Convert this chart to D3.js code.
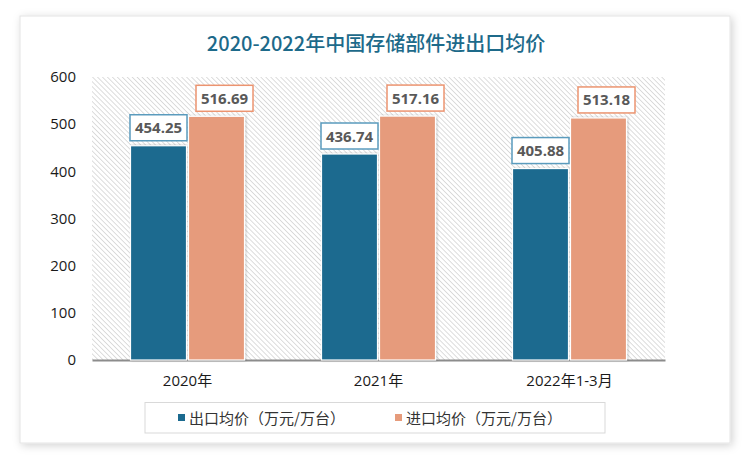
<!DOCTYPE html>
<html><head><meta charset="utf-8">
<script src="https://cdn.jsdelivr.net/npm/d3@7"></script>
<style>body{margin:0;background:#fff;}svg{display:block;}</style>
</head><body>
<svg id="chart" width="750" height="461"></svg>
<script>
const title = "2020-2022年中国存储部件进出口均价";
const categories = ["2020年", "2021年", "2022年1-3月"];
const seriesNames = ["出口均价（万元/万台）", "进口均价（万元/万台）"];
const exportValues = [454.25, 436.74, 405.88];
const importValues = [516.69, 517.16, 513.18];
const yTicks = [0, 100, 200, 300, 400, 500, 600];
const colors = ["#1b6a8f", "#e69b7b"];
const labelBorders = ["#5a9bbd", "#ec9470"];

const svg = d3.select("#chart");
const defs = svg.append("defs");
const sh = defs.append("filter").attr("id","cardShadow").attr("x","-5%").attr("y","-5%").attr("width","110%").attr("height","110%");
sh.append("feDropShadow").attr("dx",2).attr("dy",2).attr("stdDeviation",4).attr("flood-color","#000").attr("flood-opacity",0.18);
const bs = defs.append("filter").attr("id","barShadow").attr("x","-10%").attr("y","-10%").attr("width","130%").attr("height","120%");
bs.append("feDropShadow").attr("dx",1).attr("dy",0).attr("stdDeviation",1.2).attr("flood-color","#000").attr("flood-opacity",0.25);
const pat = defs.append("pattern").attr("id","hatch").attr("patternUnits","userSpaceOnUse")
  .attr("width",3.5).attr("height",3.5).attr("patternTransform","rotate(-45)");
pat.append("rect").attr("width",3.5).attr("height",3.5).attr("fill","#fff");
pat.append("line").attr("x1",0).attr("y1",0).attr("x2",0).attr("y2",3.5).attr("stroke","#cfcfcf").attr("stroke-width",1.4);

// card
svg.append("rect").attr("x",20).attr("y",16).attr("width",710).attr("height",427)
  .attr("fill","#fff").attr("stroke","#e4e4e4").attr("filter","url(#cardShadow)");

svg.append("text").attr("x",376).attr("y",51).attr("text-anchor","middle")
  .attr("font-family","'Noto Sans CJK SC'").attr("font-size",20).attr("font-weight",500)
  .attr("fill","#1d6a8a").text(title);

const plot = {l:92, r:665, t:77, b:360};
const x = d3.scaleBand().domain(categories).range([plot.l, plot.r]);
const y = d3.scaleLinear().domain([0,600]).range([plot.b, plot.t]);

svg.append("rect").attr("x",plot.l).attr("y",plot.t).attr("width",plot.r-plot.l).attr("height",plot.b-plot.t)
  .attr("fill","url(#hatch)");

// y axis labels
const yAxis = d3.axisLeft(y).tickValues(yTicks).tickSize(0).tickPadding(16);
const yg = svg.append("g").attr("transform",`translate(${plot.l},0)`).call(yAxis);
yg.select(".domain").remove();
yg.selectAll("text").attr("font-family","'Open Sans', 'Liberation Sans', sans-serif").attr("font-size",15).attr("fill","#1a1a1a");

// x axis
const xAxis = d3.axisBottom(x).tickSize(0).tickPadding(15);
const xg = svg.append("g").attr("transform",`translate(0,${plot.b})`).call(xAxis);
xg.select(".domain").attr("stroke","#8c8c8c").attr("stroke-width",2);
xg.selectAll("text").attr("font-family","'Open Sans', 'Noto Sans CJK SC', sans-serif").attr("font-size",15).attr("fill","#1a1a1a");

const barW = 56, gap = 2;
const data = categories.map((c,i)=>({c, vals:[exportValues[i], importValues[i]]}));
const g = svg.append("g");
data.forEach(d=>{
  const cx = x(d.c) + x.bandwidth()/2;
  d.vals.forEach((v,k)=>{
    const bx = k===0 ? cx - gap/2 - barW : cx + gap/2;
    g.append("rect").attr("x",bx).attr("y",y(v)).attr("width",barW).attr("height",plot.b - y(v))
      .attr("fill",colors[k]).attr("stroke","#fff").attr("stroke-width",1.2).attr("filter","url(#barShadow)");
  });
});
// labels
data.forEach(d=>{
  const cx = x(d.c) + x.bandwidth()/2;
  d.vals.forEach((v,k)=>{
    const lc = k===0 ? cx - gap/2 - barW/2 : cx + gap/2 + barW/2 + 8;
    const bw = 57, bh = 26;
    const by = y(v) - 5 - bh;
    g.append("rect").attr("x",lc-bw/2).attr("y",by).attr("width",bw).attr("height",bh)
      .attr("fill","#fff").attr("stroke",labelBorders[k]).attr("stroke-width",1.5);
    g.append("text").attr("x",lc).attr("y",by+bh/2+5.5).attr("text-anchor","middle")
      .attr("font-family","'Open Sans', 'Liberation Sans', sans-serif").attr("font-weight","bold")
      .attr("font-size",15).attr("fill","#595959").text(v.toFixed(2));
  });
});

// legend
svg.append("rect").attr("x",145).attr("y",402.5).attr("width",460).attr("height",30.5)
  .attr("fill","#fff").attr("stroke","#d9d9d9").attr("stroke-width",1);
const legX = [178, 395];
seriesNames.forEach((n,k)=>{
  svg.append("rect").attr("x",legX[k]).attr("y",414).attr("width",7).attr("height",7).attr("fill",colors[k]);
  svg.append("text").attr("x",legX[k]+11).attr("y",423.5)
    .attr("font-family","'Noto Sans CJK SC', sans-serif").attr("font-size",15).attr("fill","#333").text(n);
});
</script>
</body></html>
